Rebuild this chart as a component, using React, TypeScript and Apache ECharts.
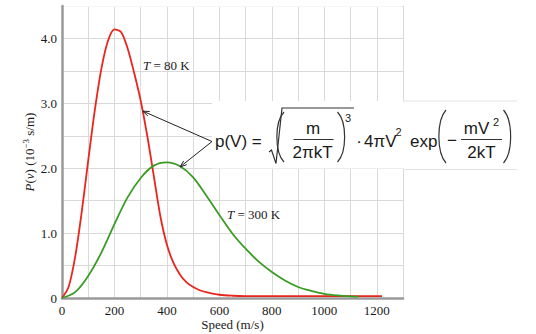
import React, { useEffect, useRef } from "react";
import * as echarts from "echarts";

// T = 80 K curve (speed m/s, P(v) in 10^-3 s/m)
const speeds80 = [0, 25, 50, 75, 100, 125, 150, 175, 200, 225, 250, 275, 300, 325, 350, 375, 400, 425, 450, 475, 500, 525, 550, 600, 650, 700, 800, 900, 1000, 1100, 1220];
const density80 = [0, 0.17, 0.63, 1.32, 2.12, 2.89, 3.53, 3.96, 4.14, 4.1, 3.85, 3.47, 3.04, 2.5, 1.88, 1.26, 0.82, 0.54, 0.36, 0.24, 0.17, 0.12, 0.09, 0.05, 0.035, 0.03, 0.03, 0.03, 0.03, 0.03, 0.03];

// T = 300 K curve
const speeds300 = [0, 50, 100, 150, 200, 250, 300, 350, 400, 450, 500, 550, 600, 650, 700, 750, 800, 850, 900, 950, 1000, 1050, 1100, 1130];
const density300 = [0, 0.09, 0.34, 0.7, 1.14, 1.55, 1.85, 2.04, 2.09, 2.03, 1.86, 1.58, 1.28, 0.99, 0.76, 0.56, 0.4, 0.27, 0.17, 0.11, 0.065, 0.04, 0.025, 0.02];

const xLabels = [0, 200, 400, 600, 800, 1000, 1200];
const yLabels = [0, 1, 2, 3, 4];

const arrowRed: [number, number] = [308, 2.88];
const arrowGreen: [number, number] = [450, 2.02];

const SERIF = "'Liberation Serif', 'Times New Roman', serif";
const SANS = "'Liberation Sans', Arial, sans-serif";
const INK = "#1a1a1a";

export default function App() {
  const ref = useRef<HTMLDivElement>(null);
  useEffect(() => {
    if (!ref.current) return;
    const chart = echarts.init(ref.current, null, { renderer: "svg" });
    chart.setOption({
      animation: false,
      backgroundColor: "#ffffff",
      grid: { left: 62, right: 133, top: 6, bottom: 36, containLabel: false, outerBoundsMode: "none" },
      xAxis: {
        type: "value",
        min: 0,
        max: 1300,
        interval: 100,
        name: "Speed (m/s)",
        nameLocation: "middle",
        nameGap: 19,
        nameMoveOverlap: false,
        nameTextStyle: { fontFamily: SERIF, fontSize: 13, color: INK, lineHeight: 14 },
        axisLine: { lineStyle: { color: "#9a9a9a", width: 2.5 } },
        axisTick: { show: false },
        axisLabel: {
          margin: 6,
          fontFamily: SERIF,
          fontSize: 13,
          color: INK,
          formatter: (v: number) => (xLabels.indexOf(v) >= 0 ? String(v) : ""),
        },
        splitLine: { show: true, lineStyle: { color: "#d9d9d9", width: 1 } },
      },
      yAxis: {
        type: "value",
        min: 0,
        max: 4.5,
        interval: 0.5,
        name: "{i|P}({i|v}) (10{sup|−3} s/m)",
        nameLocation: "middle",
        nameGap: 25,
        nameMoveOverlap: false,
        nameTextStyle: {
          fontFamily: SERIF,
          fontSize: 13,
          color: INK,
          rich: {
            i: { fontFamily: SERIF, fontSize: 13, fontStyle: "italic", color: INK },
            sup: { fontFamily: SERIF, fontSize: 9, color: INK, padding: [0, 0, 7, 0] },
          },
        },
        axisLine: { show: true, lineStyle: { color: "#9a9a9a", width: 2.5 } },
        axisTick: { show: false },
        axisLabel: {
          margin: 5,
          fontFamily: SERIF,
          fontSize: 13,
          color: INK,
          formatter: (v: number) => {
            const r = Math.round(v * 10) / 10;
            if (yLabels.indexOf(r) < 0) return "";
            return r === 0 ? "0" : r.toFixed(1);
          },
        },
        splitLine: { show: true, lineStyle: { color: "#d9d9d9", width: 1 } },
      },
      series: [
        {
          name: "T = 80 K",
          type: "line",
          data: speeds80.map((v, i) => [v, density80[i]]),
          showSymbol: false,
          smooth: 0.3,
          lineStyle: { color: "#e8261e", width: 1.8 },
          z: 3,
        },
        {
          name: "T = 300 K",
          type: "line",
          data: speeds300.map((v, i) => [v, density300[i]]),
          showSymbol: false,
          smooth: 0.3,
          lineStyle: { color: "#3a9d23", width: 1.8 },
          z: 3,
        },
      ],
    });

    const origin: [number, number] = [212, 141.5];
    const head = (end: number[]) => {
      const dx = origin[0] - end[0];
      const dy = origin[1] - end[1];
      const len = Math.sqrt(dx * dx + dy * dy);
      const ux = dx / len;
      const uy = dy / len;
      const L = 7;
      const a = (20 * Math.PI) / 180;
      const c = Math.cos(a);
      const s = Math.sin(a);
      const p1 = [end[0] + L * (ux * c - uy * s), end[1] + L * (ux * s + uy * c)];
      const p2 = [end[0] + L * (ux * c + uy * s), end[1] + L * (-ux * s + uy * c)];
      return [p1, end, p2];
    };
    const eRed = chart.convertToPixel({ gridIndex: 0 }, arrowRed) as number[];
    const eGreen = chart.convertToPixel({ gridIndex: 0 }, arrowGreen) as number[];
    const topLeft = chart.convertToPixel({ gridIndex: 0 }, [0, 4.5]) as number[];
    const topRight = chart.convertToPixel({ gridIndex: 0 }, [1300, 4.5]) as number[];

    const txt = (text: string, x: number, y: number, size: number, align = "left", extra: any = {}) => ({
      type: "text",
      x,
      y,
      z: 20,
      style: {
        text,
        fontFamily: SANS,
        fontSize: size,
        fill: INK,
        align,
        verticalAlign: "middle",
        ...extra,
      },
    });
    const paren = (x: number, y1: number, y2: number, cx: number) => ({
      type: "bezierCurve",
      z: 20,
      shape: { x1: x, y1, x2: x, y2, cpx1: cx, cpy1: y1 + (y2 - y1) * 0.2, cpx2: cx, cpy2: y1 + (y2 - y1) * 0.8 },
      style: { stroke: "#333", lineWidth: 1.2, fill: "none" },
    });
    const hline = (x1: number, x2: number, y: number, color = "#333", w = 1) => ({
      type: "line",
      z: 20,
      shape: { x1, y1: y, x2, y2: y },
      style: { stroke: color, lineWidth: w },
    });

    chart.setOption({
      graphic: [
        // hide top border grid line (reference has none)
        hline(topLeft[0] + 2, topRight[0] - 0.6, topLeft[1], "#ffffff", 1.6),
        // formula backdrop
        { type: "rect", z: 15, shape: { x: 212, y: 101, width: 305, height: 67.5 }, style: { fill: "#ffffff" } },
        hline(403, 517, 101, "#e2e2e2"),
        hline(403, 517, 169.5, "#e2e2e2"),
        // curve labels
        {
          type: "text",
          x: 143,
          y: 65,
          z: 20,
          style: {
            text: "{i|T} = 80 K",
            fontFamily: SERIF,
            fontSize: 13,
            fill: INK,
            verticalAlign: "middle",
            rich: { i: { fontFamily: SERIF, fontSize: 13, fontStyle: "italic", fill: INK } },
          },
        },
        {
          type: "text",
          x: 227,
          y: 214,
          z: 20,
          style: {
            text: "{i|T} = 300 K",
            fontFamily: SERIF,
            fontSize: 13,
            fill: INK,
            verticalAlign: "middle",
            rich: { i: { fontFamily: SERIF, fontSize: 13, fontStyle: "italic", fill: INK } },
          },
        },
        // arrows
        { type: "line", z: 21, shape: { x1: origin[0], y1: origin[1], x2: eRed[0], y2: eRed[1] }, style: { stroke: "#222", lineWidth: 1 } },
        { type: "polyline", z: 21, shape: { points: head(eRed) }, style: { stroke: "#222", lineWidth: 1, fill: "none" } },
        { type: "line", z: 21, shape: { x1: origin[0], y1: origin[1], x2: eGreen[0], y2: eGreen[1] }, style: { stroke: "#222", lineWidth: 1 } },
        { type: "polyline", z: 21, shape: { points: head(eGreen) }, style: { stroke: "#222", lineWidth: 1, fill: "none" } },
        // formula
        txt("p(V) =", 215, 141, 17),
        {
          type: "polyline",
          z: 20,
          shape: { points: [[269, 152], [271.5, 150], [276, 163.5], [282, 108], [354, 108]] },
          style: { stroke: "#333", lineWidth: 1.2, fill: "none" },
        },
        paren(284, 112, 162, 274.5),
        txt("m", 313, 128, 17, "center"),
        hline(293.5, 333.5, 139.5),
        txt("2πkT", 312.5, 152, 17, "center"),
        paren(337.5, 112, 162, 347),
        txt("3", 348, 118, 11, "center"),
        txt("·", 359, 141, 17, "center"),
        txt("4πV", 364, 141, 17),
        txt("2", 398.5, 132, 11, "center"),
        txt("exp", 410, 141, 17),
        paren(446, 110, 163, 436.5),
        txt("−", 452, 140, 17, "center"),
        txt("mV", 476.5, 128, 17, "center"),
        txt("2", 496, 122, 11, "center"),
        hline(461, 502, 139.5),
        txt("2kT", 481.5, 152, 17, "center"),
        paren(503.5, 110, 163, 513),
      ],
    });
    return () => chart.dispose();
  }, []);
  return <div ref={ref} style={{ position: "absolute", left: 0, top: 0, width: 536, height: 334 }} />;
}
